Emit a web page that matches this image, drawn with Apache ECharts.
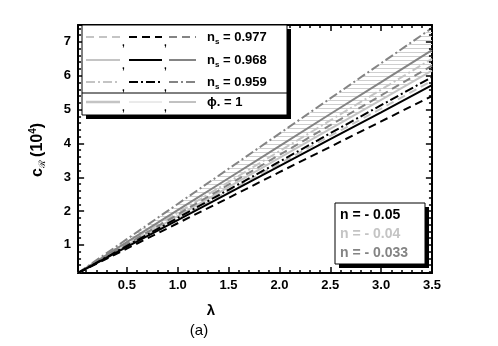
<!DOCTYPE html>
<html><head><meta charset="utf-8">
<script src="https://cdn.jsdelivr.net/npm/echarts@6/dist/echarts.min.js"></script>
<style>html,body{margin:0;padding:0;background:#fff}#c{width:498px;height:346px}</style></head>
<body><div id="c"></div>
<script>
const lambda = [0.02, 0.5, 1.0, 1.5, 2.0, 2.5, 3.0, 3.5];
// n = -0.05 (black)
const blackDashed  = [0.17, 0.89, 1.64, 2.39, 3.15, 3.90, 4.65, 5.40];
const blackSolid   = [0.17, 0.94, 1.73, 2.53, 3.33, 4.13, 4.92, 5.72];
const blackDashDot = [0.17, 0.97, 1.80, 2.63, 3.46, 4.30, 5.13, 5.96];
// n = -0.04 (light gray)
const lightDashed  = [0.17, 0.95, 1.77, 2.59, 3.40, 4.22, 5.03, 5.85];
const lightSolid   = [0.17, 0.99, 1.85, 2.71, 3.57, 4.43, 5.29, 6.15];
const lightDashDot = [0.17, 1.04, 1.95, 2.86, 3.77, 4.68, 5.59, 6.50];
// n = -0.033 (dark gray)
const grayDashed   = [0.17, 1.02, 1.90, 2.78, 3.66, 4.54, 5.42, 6.30];
const graySolid    = [0.17, 1.08, 2.03, 2.97, 3.92, 4.87, 5.81, 6.76];
const grayDashDot  = [0.17, 1.17, 2.21, 3.25, 4.29, 5.33, 6.37, 7.41];

const xTicks = [0.5, 1.0, 1.5, 2.0, 2.5, 3.0, 3.5];
const xMinor = [0.1,0.2,0.3,0.4,0.6,0.7,0.8,0.9,1.1,1.2,1.3,1.4,1.6,1.7,1.8,1.9,2.1,2.2,2.3,2.4,2.6,2.7,2.8,2.9,3.1,3.2,3.3,3.4];
const yTicks = [1, 2, 3, 4, 5, 6, 7];
const yMinor = [0.2,0.4,0.6,0.8,1.2,1.4,1.6,1.8,2.2,2.4,2.6,2.8,3.2,3.4,3.6,3.8,4.2,4.4,4.6,4.8,5.2,5.4,5.6,5.8,6.2,6.4,6.6,6.8,7.2,7.4];

const X_MIN = 0.02, X_MAX = 3.5, Y_MIN = 0.17, Y_MAX = 7.5;
const BLACK = '#000', LIGHT = '#c4c4c4', GRAY = '#848484';
const DASH = [8, 5], DASHDOT = [9, 3, 2, 3];
const FONT = 'Liberation Sans';

const chart = echarts.init(document.getElementById('c'));

// hatch pattern
const pc = document.createElement('canvas');
pc.width = 6; pc.height = 4;
const pctx = pc.getContext('2d');
pctx.fillStyle = '#cfcfcf';
pctx.fillRect(0, 0, 6, 1);

const pair = (ys) => lambda.map((x, i) => [x, ys[i]]);
function mkLine(name, ys, color, type) {
  return {name, type: 'line', data: pair(ys), symbol: 'none', silent: true, z: 3,
    lineStyle: {color, width: 2, type}};
}

// tick segments expressed in data units (inward on all four sides)
const Y_MAJ = 0.18, Y_MIN_LEN = 0.09;   // vertical tick lengths (y units)
const X_MAJ = 0.06, X_MIN_LEN = 0.03;   // horizontal tick lengths (x units)
const tickData = [];
const addX = (vals, len) => vals.forEach(v => {
  tickData.push({coords: [[v, Y_MIN], [v, Y_MIN + len]]});
  tickData.push({coords: [[v, Y_MAX], [v, Y_MAX - len]]});
});
const addY = (vals, len) => vals.forEach(v => {
  tickData.push({coords: [[X_MIN, v], [X_MIN + len, v]]});
  tickData.push({coords: [[X_MAX, v], [X_MAX - len, v]]});
});
addX(xTicks, Y_MAJ); addX(xMinor, Y_MIN_LEN); addY(yTicks, X_MAJ); addY(yMinor, X_MIN_LEN);

const axisCommon = {
  axisLine: {show: true, onZero: false, lineStyle: {color: '#000', width: 2}},
  axisTick: {show: false}, splitLine: {show: false}
};

const g = [];
const legendRows = [
  {y: 37, type: DASH, text: '{n|n}{s|s}{n| = 0.977}', w: [2, 2, 2]},
  {y: 60, type: 'solid', text: '{n|n}{s|s}{n| = 0.968}', w: [2, 2, 2]},
  {y: 82, type: DASHDOT, text: '{n|n}{s|s}{n| = 0.959}', w: [2, 2, 2]},
  {y: 102, type: 'solid', text: '{n|ϕ. = 1}', w: [2.5, 1, 1]}
];
const legendColors = [LIGHT, BLACK, GRAY];
const rowCols = [[86, 120], [129, 162], [169, 196]];
g.push({type: 'rect', shape: {x: 86, y: 29, width: 205, height: 90}, style: {fill: '#000'}, z: 60});
g.push({type: 'rect', shape: {x: 82, y: 25, width: 205, height: 90}, style: {fill: '#fff', stroke: '#000', lineWidth: 1}, z: 61});
g.push({type: 'line', shape: {x1: 82, y1: 93, x2: 287, y2: 93}, style: {stroke: '#000', lineWidth: 1}, z: 62});
legendRows.forEach((r, ri) => {
  rowCols.forEach((c, ci) => {
    const col = (ri === 3 && ci === 1) ? '#d6d6d6' : legendColors[ci];
    g.push({type: 'line', shape: {x1: c[0], y1: r.y, x2: c[1], y2: r.y},
      style: {stroke: col, lineWidth: r.w[ci], lineDash: r.type === 'solid' ? null : r.type}, z: 62});
    if (ci < 2) g.push({type: 'text', x: c[1] + 2, y: r.y + 1, style: {text: ',', fill: '#000', font: 'bold 10px ' + FONT}, z: 62});
  });
  g.push({type: 'text', x: 207, y: r.y, style: {text: r.text, verticalAlign: 'middle', fill: '#000',
    rich: {n: {fontFamily: FONT, fontWeight: 'bold', fontSize: 13, fill: '#000'},
           s: {fontFamily: FONT, fontWeight: 'bold', fontSize: 8, fill: '#000', padding: [10, 0, 0, 0]}}}, z: 62});
});
// n box
g.push({type: 'rect', shape: {x: 339, y: 207, width: 90, height: 61}, style: {fill: '#000'}, z: 60});
g.push({type: 'rect', shape: {x: 335, y: 203, width: 90, height: 61}, style: {fill: '#fff', stroke: '#000', lineWidth: 1}, z: 61});
[['n = - 0.05', BLACK, 215], ['n = - 0.04', LIGHT, 234], ['n = - 0.033', GRAY, 253]].forEach(t => {
  g.push({type: 'text', x: 340, y: t[2], style: {text: t[0], fill: t[1], font: 'bold 14px ' + FONT, verticalAlign: 'middle'}, z: 62});
});
// axis titles
g.push({type: 'text', x: 211, y: 311, style: {text: 'λ', fill: '#000', font: 'bold 15px ' + FONT, align: 'center', verticalAlign: 'middle'}});
g.push({type: 'text', x: 199, y: 331, style: {text: '(a)', fill: '#000', font: '15px ' + FONT, align: 'center', verticalAlign: 'middle'}});
g.push({type: 'text', x: 38, y: 150, rotation: Math.PI / 2,
  style: {text: '{a|c}{r|ℛ} {a|(10}{p|4}{a|)}', align: 'center', verticalAlign: 'middle',
    rich: {a: {fontFamily: FONT, fontWeight: 'bold', fontSize: 16, fill: '#000'},
           r: {fontFamily: FONT, fontSize: 9, fill: '#000', padding: [10, 0, 0, 0]},
           p: {fontFamily: FONT, fontWeight: 'bold', fontSize: 10, fill: '#000', padding: [0, 0, 10, 0]}}}});

chart.setOption({
  animation: false,
  backgroundColor: '#fff',
  grid: {left: 78, right: 66, top: 25, bottom: 73, containLabel: false},
  xAxis: [
    Object.assign({type: 'value', min: X_MIN, max: X_MAX, position: 'bottom',
      axisLabel: {customValues: xTicks, color: '#000', fontFamily: FONT, fontWeight: 'bold', fontSize: 13, margin: 6,
        formatter: v => v.toFixed(1)}}, axisCommon),
    Object.assign({type: 'value', min: X_MIN, max: X_MAX, position: 'top', axisLabel: {show: false}}, axisCommon)
  ],
  yAxis: [
    Object.assign({type: 'value', min: Y_MIN, max: Y_MAX, position: 'left',
      axisLabel: {customValues: yTicks, color: '#000', fontFamily: FONT, fontWeight: 'bold', fontSize: 13, margin: 7,
        formatter: v => String(v)}}, axisCommon),
    Object.assign({type: 'value', min: Y_MIN, max: Y_MAX, position: 'right', axisLabel: {show: false}}, axisCommon)
  ],
  series: [
    {name: 'band', type: 'custom', silent: true, z: 1, data: [0], clip: true,
      renderItem: (params, api) => {
        const pts = [];
        lambda.forEach((x, i) => pts.push(api.coord([x, grayDashDot[i]])));
        for (let i = lambda.length - 1; i >= 0; i--) pts.push(api.coord([lambda[i], lightSolid[i]]));
        return {type: 'polygon', shape: {points: pts}, style: {fill: {image: pc, repeat: 'repeat'}}};
      }},
    mkLine('n=-0.04 ns=0.977', lightDashed, LIGHT, DASH),
    mkLine('n=-0.04 ns=0.968', lightSolid, LIGHT, 'solid'),
    mkLine('n=-0.04 ns=0.959', lightDashDot, LIGHT, DASHDOT),
    mkLine('n=-0.033 ns=0.977', grayDashed, GRAY, DASH),
    mkLine('n=-0.033 ns=0.968', graySolid, GRAY, 'solid'),
    mkLine('n=-0.033 ns=0.959', grayDashDot, GRAY, DASHDOT),
    mkLine('n=-0.05 ns=0.977', blackDashed, BLACK, DASH),
    mkLine('n=-0.05 ns=0.968', blackSolid, BLACK, 'solid'),
    mkLine('n=-0.05 ns=0.959', blackDashDot, BLACK, DASHDOT),
    {name: 'ticks', type: 'lines', coordinateSystem: 'cartesian2d', silent: true, z: 10,
      polyline: false, data: tickData,
      lineStyle: {color: '#000', width: 1.5, opacity: 1, curveness: 0}}
  ],
  graphic: g
});
</script></body></html>
